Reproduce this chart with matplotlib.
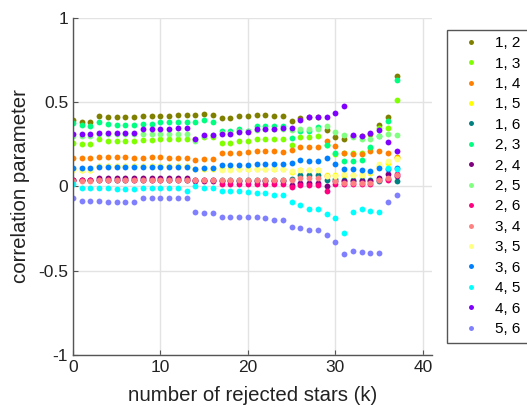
import numpy as np
import matplotlib
matplotlib.use("Agg")
import matplotlib.pyplot as plt
from matplotlib.patches import Rectangle

plt.rcParams['font.family'] = ['Liberation Sans', 'DejaVu Sans']

k = np.arange(38)

labels = ['1, 2', '1, 3', '1, 4', '1, 5', '1, 6', '2, 3', '2, 4', '2, 5',
          '2, 6', '3, 4', '3, 5', '3, 6', '4, 5', '4, 6', '5, 6']
colors = ['#808000', '#80ff00', '#ff8000', '#ffff00', '#008080', '#00ff80',
          '#800080', '#80ff80', '#ff0080', '#ff8080', '#ffff80', '#0080ff',
          '#00ffff', '#8000ff', '#8080ff']

s12 = [0.390, 0.383, 0.383, 0.417, 0.410, 0.412, 0.412, 0.412, 0.415, 0.417,
       0.419, 0.419, 0.421, 0.421, 0.421, 0.429, 0.423, 0.407, 0.407, 0.415,
       0.415, 0.421, 0.421, 0.417, 0.417, 0.389, 0.407, 0.410, 0.410, 0.336,
       0.290, 0.279, 0.300, 0.300, 0.310, 0.362, 0.410, 0.654]
s13 = [0.259, 0.249, 0.253, 0.279, 0.271, 0.269, 0.267, 0.267, 0.273, 0.273,
       0.281, 0.281, 0.281, 0.281, 0.279, 0.290, 0.290, 0.259, 0.259, 0.267,
       0.270, 0.281, 0.281, 0.281, 0.281, 0.247, 0.292, 0.294, 0.300, 0.245,
       0.190, 0.200, 0.200, 0.200, 0.225, 0.346, 0.346, 0.514]
s14 = [0.170, 0.166, 0.166, 0.174, 0.174, 0.174, 0.172, 0.170, 0.170, 0.172,
       0.172, 0.170, 0.170, 0.170, 0.158, 0.162, 0.162, 0.200, 0.200, 0.200,
       0.203, 0.206, 0.206, 0.206, 0.203, 0.215, 0.231, 0.231, 0.231, 0.269,
       0.237, 0.200, 0.190, 0.190, 0.207, 0.209, 0.200, 0.175]
s15 = [0.100, 0.097, 0.097, 0.118, 0.118, 0.118, 0.118, 0.118, 0.118, 0.118,
       0.118, 0.118, 0.118, 0.118, 0.100, 0.105, 0.105, 0.101, 0.101, 0.103,
       0.103, 0.105, 0.105, 0.105, 0.105, 0.087, 0.095, 0.095, 0.097, 0.065,
       0.065, 0.068, 0.065, 0.065, 0.079, 0.120, 0.140, 0.170]
s16 = [0.040, 0.040, 0.040, 0.040, 0.040, 0.040, 0.040, 0.040, 0.040, 0.040,
       0.040, 0.040, 0.040, 0.040, 0.040, 0.040, 0.040, 0.040, 0.040, 0.040,
       0.040, 0.040, 0.040, 0.040, 0.040, 0.045, 0.065, 0.065, 0.065, 0.040,
       0.045, 0.040, 0.040, 0.040, 0.040, 0.030, 0.041, 0.030]
s23 = [0.375, 0.363, 0.360, 0.379, 0.369, 0.362, 0.362, 0.362, 0.369, 0.369,
       0.379, 0.379, 0.379, 0.381, 0.381, 0.393, 0.380, 0.330, 0.330, 0.338,
       0.330, 0.358, 0.358, 0.358, 0.358, 0.286, 0.330, 0.330, 0.350, 0.245,
       0.200, 0.148, 0.148, 0.155, 0.230, 0.300, 0.387, 0.632]
s24 = [0.040, 0.040, 0.040, 0.048, 0.048, 0.048, 0.048, 0.048, 0.048, 0.048,
       0.048, 0.048, 0.048, 0.048, 0.030, 0.030, 0.030, 0.030, 0.030, 0.030,
       0.030, 0.030, 0.030, 0.030, 0.030, 0.010, 0.022, 0.022, 0.022, 0.000,
       0.030, 0.032, 0.032, 0.032, 0.032, 0.049, 0.075, 0.060]
s25 = [0.300, 0.300, 0.300, 0.310, 0.310, 0.310, 0.310, 0.310, 0.310, 0.310,
       0.310, 0.310, 0.312, 0.312, 0.270, 0.298, 0.302, 0.314, 0.316, 0.330,
       0.330, 0.335, 0.340, 0.340, 0.340, 0.336, 0.340, 0.340, 0.340, 0.360,
       0.320, 0.302, 0.290, 0.280, 0.280, 0.296, 0.308, 0.302]
s26 = [0.040, 0.040, 0.040, 0.040, 0.040, 0.040, 0.040, 0.040, 0.040, 0.040,
       0.040, 0.040, 0.040, 0.040, 0.040, 0.040, 0.040, 0.016, 0.016, 0.016,
       0.016, 0.016, 0.016, 0.016, 0.016, -0.006, 0.006, 0.006, 0.006, -0.028,
       0.016, 0.016, 0.016, 0.016, 0.016, 0.036, 0.040, 0.075]
s34 = [0.034, 0.034, 0.034, 0.036, 0.036, 0.036, 0.036, 0.036, 0.036, 0.036,
       0.036, 0.036, 0.036, 0.036, 0.036, 0.036, 0.036, 0.040, 0.040, 0.040,
       0.040, 0.040, 0.040, 0.040, 0.040, 0.036, 0.050, 0.050, 0.050, 0.060,
       0.030, 0.020, 0.020, 0.020, 0.020, 0.036, 0.051, 0.067]
s35 = [0.095, 0.095, 0.095, 0.122, 0.122, 0.122, 0.122, 0.122, 0.122, 0.122,
       0.122, 0.122, 0.122, 0.122, 0.100, 0.108, 0.108, 0.098, 0.098, 0.100,
       0.100, 0.100, 0.100, 0.100, 0.100, 0.090, 0.095, 0.095, 0.095, 0.061,
       0.061, 0.070, 0.068, 0.068, 0.082, 0.130, 0.150, 0.160]
s36 = [0.111, 0.107, 0.107, 0.115, 0.113, 0.113, 0.113, 0.113, 0.113, 0.115,
       0.115, 0.115, 0.115, 0.115, 0.105, 0.109, 0.109, 0.124, 0.124, 0.126,
       0.128, 0.130, 0.130, 0.130, 0.130, 0.140, 0.154, 0.152, 0.152, 0.166,
       0.130, 0.105, 0.101, 0.099, 0.089, 0.109, 0.105, 0.111]
s45 = [0.014, -0.010, -0.010, -0.008, -0.010, -0.014, -0.014, -0.014, -0.010, -0.010,
       -0.010, -0.010, -0.010, -0.030, 0.004, -0.008, -0.008, -0.028, -0.028, -0.030,
       -0.034, -0.040, -0.041, -0.051, -0.051, -0.091, -0.109, -0.134, -0.134, -0.162,
       -0.191, -0.279, -0.152, -0.136, -0.148, -0.154, 0.109, 0.105]
s46 = [0.312, 0.312, 0.312, 0.316, 0.316, 0.316, 0.316, 0.316, 0.340, 0.340,
       0.342, 0.342, 0.344, 0.344, 0.279, 0.302, 0.304, 0.308, 0.312, 0.320,
       0.324, 0.340, 0.340, 0.340, 0.344, 0.346, 0.391, 0.410, 0.413, 0.413,
       0.435, 0.478, 0.304, 0.298, 0.314, 0.334, 0.263, 0.211]
s56 = [-0.069, -0.087, -0.087, -0.087, -0.091, -0.095, -0.095, -0.095, -0.069, -0.069,
       -0.069, -0.069, -0.069, -0.069, -0.154, -0.160, -0.160, -0.184, -0.184, -0.184,
       -0.184, -0.184, -0.186, -0.198, -0.198, -0.239, -0.245, -0.261, -0.261, -0.289,
       -0.328, -0.399, -0.381, -0.389, -0.393, -0.393, -0.091, -0.051]

series = [s12, s13, s14, s15, s16, s23, s24, s25, s26, s34, s35, s36, s45, s46, s56]

W, H = 527, 407
fig = plt.figure(figsize=(W / 100, H / 100), dpi=100)
ax = fig.add_axes([73 / W, 1 - 355 / H, (431.7 - 73) / W, (355 - 17.5) / H])

for lab, col, vals in zip(labels, colors, series):
    ax.plot(k, vals, linestyle='none', marker='o', markersize=4.2,
            markeredgewidth=0, color=col, label=lab)

ax.set_xlim(0, 41)
ax.set_ylim(-1, 1)
ax.set_xticks([0, 10, 20, 30, 40])
ax.set_yticks([-1, -0.5, 0, 0.5, 1])
ax.set_yticklabels(['-1', '-0.5', '0', '0.5', '1'])
ax.grid(True, color='#e3e3e3', linewidth=1.0)
ax.set_axisbelow(True)
for side in ['top', 'right']:
    ax.spines[side].set_visible(False)
for side in ['left', 'bottom']:
    ax.spines[side].set_color('#555555')
    ax.spines[side].set_linewidth(1.0)
ax.tick_params(direction='in', length=3.5, width=0.8, colors='#555555',
               labelcolor='#222222', labelsize=12.5)
ax.set_xlabel('number of rejected stars (k)', fontsize=14.7, color='#222222')
ax.set_ylabel('correlation parameter', fontsize=14.7, color='#222222')
ax.xaxis.set_label_coords(0.5, -0.0933)
ax.yaxis.set_label_coords(-0.12, 0.5)

# legend frame (extends past the right edge of the figure, as in the original)
frame = Rectangle((446.7 / W, 1 - 342.7 / H), (540 - 446.7) / W, (342.7 - 30) / H,
                  transform=fig.transFigure, facecolor='white',
                  edgecolor='#555555', linewidth=1.0, zorder=0)
fig.patches.append(frame)

leg = fig.legend(loc='upper left', bbox_to_anchor=(446.7 / W, 1 - 30 / H),
                 fontsize=11, frameon=False, markerscale=0.85,
                 handlelength=2.38, handletextpad=0.38, labelspacing=0.42,
                 borderpad=0.4, borderaxespad=0)

fig.savefig('out.png', dpi=100)
